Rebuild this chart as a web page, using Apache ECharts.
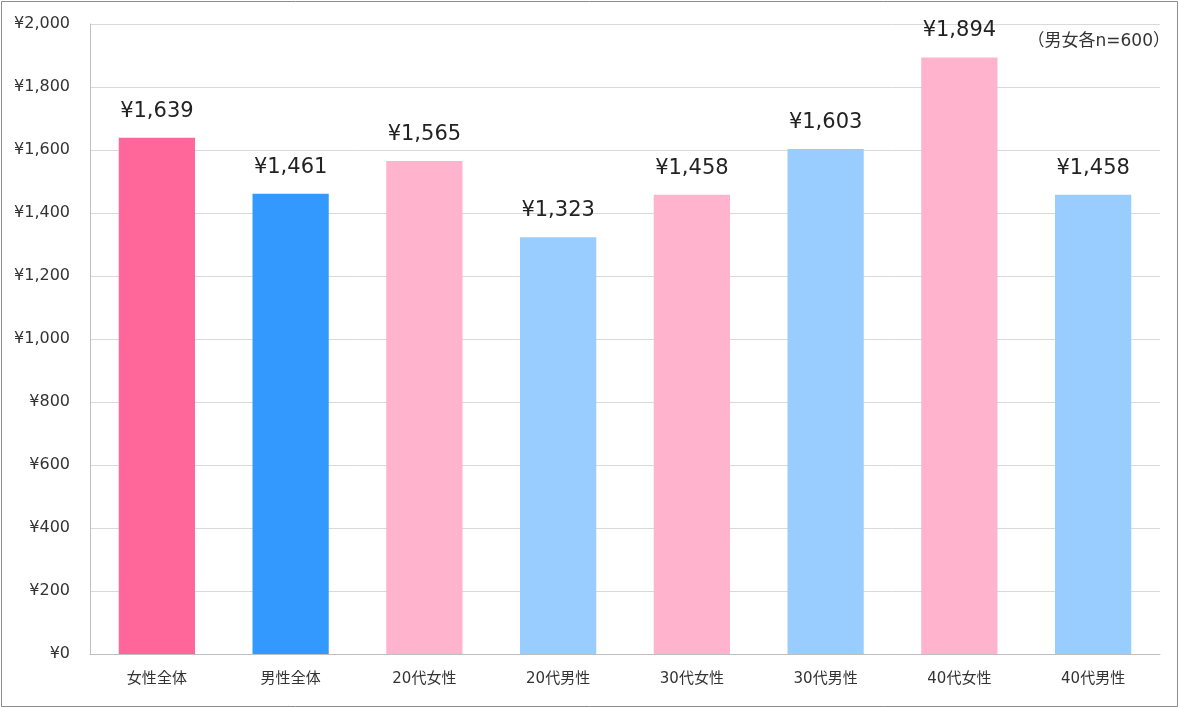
<!DOCTYPE html>
<html><head><meta charset="utf-8">
<script src="https://cdn.jsdelivr.net/npm/echarts@6/dist/echarts.min.js"></script>
<style>html,body{margin:0;padding:0;background:#fff;}#c{width:1179px;height:708px;}</style>
</head><body><div id="c"></div>
<script>
const categories = ['女性全体','男性全体','20代女性','20代男性','30代女性','30代男性','40代女性','40代男性'];
const values = [1639, 1461, 1565, 1323, 1458, 1603, 1894, 1458];
const barColors = ['#FF6699','#3399FF','#FFB3CC','#99CCFF','#FFB3CC','#99CCFF','#FFB3CC','#99CCFF'];
const note = '（男女各n=600）';
const font = '"DejaVu Sans", "Noto Sans CJK JP", sans-serif';
const chart = echarts.init(document.getElementById('c'));
chart.setOption({
  animation: false,
  textStyle: { fontFamily: font },
  grid: { left: 90, right: 19, top: 24, bottom: 54 },
  graphic: [
    { type: 'rect', shape: { x: 1.5, y: 1.5, width: 1176, height: 705 }, style: { fill: 'none', stroke: '#8c8c8c', lineWidth: 1 } },
    { type: 'text', right: 9, top: 33, style: { text: note, font: '17px ' + font, fill: '#333' } }
  ],
  xAxis: {
    type: 'category', data: categories,
    axisLine: { lineStyle: { color: '#bfbfbf' } },
    axisTick: { show: false },
    axisLabel: { color: '#333', fontSize: 15, margin: 18 }
  },
  yAxis: {
    type: 'value', min: 0, max: 2000, interval: 200,
    axisLine: { show: true, lineStyle: { color: '#bfbfbf' } },
    splitLine: { lineStyle: { color: '#d9d9d9' } },
    axisLabel: { color: '#333', fontSize: 16, margin: 20, formatter: v => '¥' + v.toLocaleString('en-US') }
  },
  series: [{
    type: 'bar', barWidth: '57%',
    data: values.map((v, i) => ({ value: v, itemStyle: { color: barColors[i] } })),
    label: { show: true, position: 'top', distance: 16, fontSize: 21, color: '#222', formatter: p => '¥' + p.value.toLocaleString('en-US') }
  }]
});
</script></body></html>
